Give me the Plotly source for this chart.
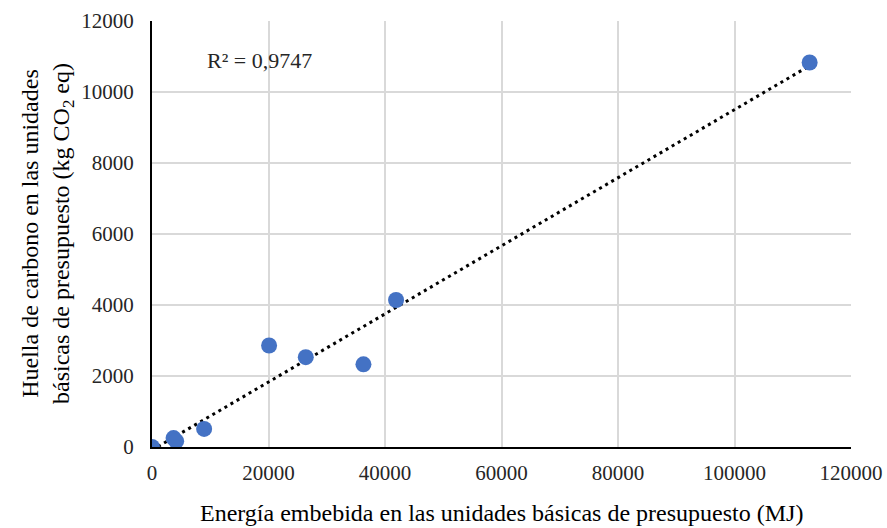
import numpy as np
import plotly.graph_objects as go

energia_mj = [0, 3700, 4150, 8950, 20100, 26400, 36300, 41900, 112900]
huella_kgco2 = [0, 250, 165, 510, 2860, 2530, 2330, 4140, 10830]
x_ticks = [0, 20000, 40000, 60000, 80000, 100000, 120000]
y_ticks = [0, 2000, 4000, 6000, 8000, 10000, 12000]
r2_label = "R² = 0,9747"
x_title = "Energía embebida en las unidades básicas de presupuesto (MJ)"
y_title = "Huella de carbono en las unidades<br>básicas de presupuesto (kg CO<sub>2</sub> eq)"

x = np.array(energia_mj, dtype=float)
y = np.array(huella_kgco2, dtype=float)
slope, intercept = np.polyfit(x, y, 1)
tx = np.array([0, x.max()])
ty = slope * tx + intercept

font = "Liberation Serif, Times New Roman, serif"

fig = go.Figure()
fig.add_trace(go.Scatter(x=tx, y=ty, mode="lines",
                         line=dict(color="black", width=3, dash="3px,4px"),
                         hoverinfo="skip", showlegend=False))
fig.add_trace(go.Scatter(x=energia_mj, y=huella_kgco2, mode="markers",
                         marker=dict(color="#4472C4", size=16),
                         showlegend=False))

fig.add_annotation(x=9100, y=10900, xref="x", yref="y", text=r2_label,
                   showarrow=False, xanchor="left", yanchor="middle",
                   font=dict(family=font, size=22, color="#262626"))

fig.add_annotation(x=0, y=0.5, xref="paper", yref="paper", xshift=-105,
                   text=y_title, textangle=-90, showarrow=False,
                   xanchor="center", yanchor="middle",
                   font=dict(family=font, size=24, color="black"))

fig.add_annotation(x=0.5, y=0, xref="paper", yref="paper", yshift=-66,
                   text=x_title, showarrow=False,
                   xanchor="center", yanchor="middle",
                   font=dict(family=font, size=24, color="black"))

fig.update_layout(
    width=887, height=528,
    margin=dict(l=152, r=36, t=21, b=81, autoexpand=False),
    paper_bgcolor="white", plot_bgcolor="white",
    font=dict(family=font, size=21, color="#262626"),
    xaxis=dict(range=[0, 120000], tickvals=x_ticks, ticktext=[str(v) for v in x_ticks],
               showgrid=True, gridcolor="#d9d9d9", gridwidth=1.5,
               showline=True, linecolor="black", linewidth=2,
               zeroline=False, ticks="", ticklabelstandoff=6, automargin=False,
               tickfont=dict(family=font, size=21, color="#262626")),
    yaxis=dict(range=[0, 12000], tickvals=y_ticks, ticktext=[str(v) for v in y_ticks],
               showgrid=True, gridcolor="#d9d9d9", gridwidth=1.5,
               showline=True, linecolor="black", linewidth=2,
               zeroline=False, ticks="", ticklabelstandoff=12, automargin=False,
               tickfont=dict(family=font, size=21, color="#262626")),
)

fig.write_html("out.html", config={"displayModeBar": False},
               post_script="document.body.style.margin='0';")
